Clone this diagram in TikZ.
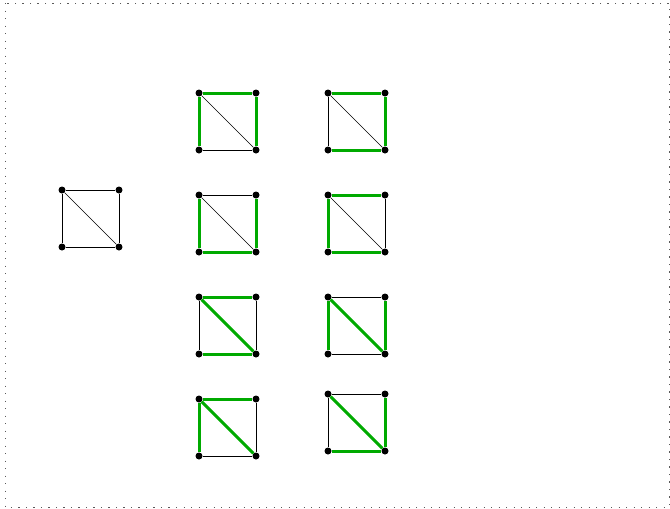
\documentclass[tikz,border=0pt]{standalone}
\usepackage{xcolor}
\usepackage{tikz}
\definecolor{tree}{RGB}{0,170,0}
\definecolor{frame}{RGB}{90,90,90}

\begin{document}
\begin{tikzpicture}[x=1pt,y=-1pt,
  v/.style={circle,fill=black,inner sep=0pt,minimum size=7pt},
  e0/.style={black,line width=0.7pt},
  e1/.style={tree,line width=3pt}]
  \useasboundingbox (0,0) rectangle (670,509);
  \draw[frame,dash pattern=on 1.3pt off 6.2pt,line width=1pt] (5,3) rectangle (669,507);
  % name/x/y/top/left/right/bottom/diagonal (1 = in tree)
  \foreach \n/\x/\y/\t/\l/\r/\b/\d in {
      g/62/190/0/0/0/0/0,
      ta/199/93/1/1/1/0/0, tb/328/93/1/0/1/1/0,
      tc/199/195/0/1/1/1/0, td/328/195/1/1/0/1/0,
      te/199/297/1/0/0/1/1, tf/328/297/0/1/1/0/1,
      tg/199/399/1/1/0/0/1, th/328/394/0/0/1/1/1}{
    \node[v] (\n-tl) at (\x,\y) {};
    \node[v] (\n-tr) at (\x+57,\y) {};
    \node[v] (\n-bl) at (\x,\y+57) {};
    \node[v] (\n-br) at (\x+57,\y+57) {};
    \draw[e\t] (\n-tl) -- (\n-tr);
    \draw[e\l] (\n-tl) -- (\n-bl);
    \draw[e\r] (\n-tr) -- (\n-br);
    \draw[e\b] (\n-bl) -- (\n-br);
    \draw[e\d] (\n-tl) -- (\n-br);
  }
\end{tikzpicture}
\end{document}
